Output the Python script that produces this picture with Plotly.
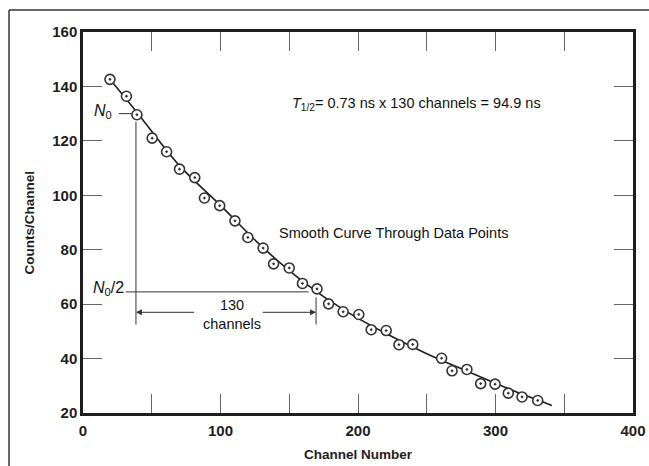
import plotly.graph_objects as go

# ---- data ----
channel = [19.6, 31.6, 39.2, 50.3, 60.8, 70.2, 81.3, 88.3, 99.4, 110.5, 119.9, 131.0,
           138.6, 150.0, 159.6, 170.2, 178.6, 189.2, 200.6, 209.6, 220.5, 229.8, 239.8,
           260.8, 268.4, 279.2, 289.2, 299.7, 309.3, 319.3, 330.7]
counts = [142.6, 136.4, 129.6, 121.0, 116.0, 109.6, 106.5, 99.0, 96.2, 90.6, 84.5, 80.6,
          74.8, 73.3, 67.6, 65.6, 60.1, 57.2, 56.2, 50.6, 50.3, 45.1, 45.2,
          40.1, 35.5, 36.0, 30.8, 30.6, 27.3, 25.9, 24.6]

curve_x = [19, 40, 70, 100, 130, 160, 190, 220, 250, 280, 310, 341]
curve_y = [143.0, 130.0, 111.0, 96.3, 81.2, 68.3, 57.8, 49.3, 41.8, 35.2, 28.8, 22.8]

x_tickvals = [0, 100, 200, 300, 400]
x_ticktext = ["0", "100", "200", "300", "400"]
y_tickvals = [20, 40, 60, 80, 100, 120, 140, 160]
y_ticktext = ["20", "40", "60", "80", "100", "120", "140", "160"]

# half-life construction values
n0 = 130
n0_half = 64.5
ch_start = 38.5
ch_end = 169.5
arrow_level = 57
text_gap = [83, 128.5]

INK = "#1e1e1e"
FONT = "Liberation Sans, Arial, sans-serif"

fig = go.Figure()
fig.add_trace(go.Scatter(x=curve_x, y=curve_y, mode="lines",
                         line=dict(color=INK, width=1.6, shape="spline", smoothing=1.0),
                         hoverinfo="skip", showlegend=False))
fig.add_trace(go.Scatter(x=channel, y=counts, mode="markers",
                         marker=dict(symbol="circle-dot", size=10, color="white",
                                     line=dict(color="#333333", width=1.6)),
                         showlegend=False))

line_style = dict(color="#333333", width=1)
shapes = [
    dict(type="line", xref="x", yref="y", x0=26, x1=35.5, y0=n0, y1=n0, line=line_style),
    dict(type="line", xref="x", yref="y", x0=ch_start, x1=ch_start, y0=127, y1=52.5, line=line_style),
    dict(type="line", xref="x", yref="y", x0=31, x1=164, y0=n0_half, y1=n0_half, line=line_style),
    dict(type="line", xref="x", yref="y", x0=ch_end, x1=ch_end, y0=62.5, y1=52.5, line=line_style),
    dict(type="line", xref="paper", yref="paper", x0=-0.1345, x1=1.3, y0=1.0577, y1=1.0577,
         line=dict(color="#333333", width=1.5)),
    dict(type="line", xref="paper", yref="paper", x0=-0.1345, x1=-0.1345, y0=1.0577, y1=-0.3,
         line=dict(color="#333333", width=1.5)),
]

ann_font = dict(family=FONT, size=14.5, color="#111111")
title_font = dict(family=FONT, size=13.5, color=INK, weight="bold")
annotations = [
    dict(x=242.5, y=133.5, xref="x", yref="y", showarrow=False,
         text="<i>T</i><sub>1/2</sub>= 0.73 ns x 130 channels = 94.9 ns", font=ann_font),
    dict(x=225.8, y=86.1, xref="x", yref="y", showarrow=False,
         text="Smooth Curve Through Data Points", font=ann_font),
    dict(x=22.5, y=n0 + 0.8, xref="x", yref="y", showarrow=False, xanchor="right",
         text="<i>N</i><sub>0</sub>", font=dict(family=FONT, size=16, color="#111111")),
    dict(x=31, y=n0_half + 1.3, xref="x", yref="y", showarrow=False, xanchor="right",
         text="<i>N</i><sub>0</sub>/2", font=dict(family=FONT, size=16, color="#111111")),
    dict(x=108, y=56.2, xref="x", yref="y", showarrow=False,
         text="130<br>channels", font=ann_font),
    dict(x=ch_start, y=arrow_level, ax=text_gap[0], ay=arrow_level, xref="x", yref="y",
         axref="x", ayref="y", showarrow=True, arrowhead=2, arrowsize=1.2, arrowwidth=1,
         arrowcolor="#333333", text=" "),
    dict(x=ch_end, y=arrow_level, ax=text_gap[1], ay=arrow_level, xref="x", yref="y",
         axref="x", ayref="y", showarrow=True, arrowhead=2, arrowsize=1.2, arrowwidth=1,
         arrowcolor="#333333", text=" "),
    # axis titles
    dict(x=0.5, y=-0.110, xref="paper", yref="paper", showarrow=False,
         xanchor="center", yanchor="middle",
         text="Channel Number", font=title_font),
    dict(x=-0.0964, y=0.5, xref="paper", yref="paper", showarrow=False, textangle=-90,
         xanchor="center", yanchor="middle",
         text="Counts/Channel", font=title_font),
]

tick_font = dict(family=FONT, size=15, color=INK, weight="bold")
axis_common = dict(showgrid=False, zeroline=False, showline=True, linecolor=INK, linewidth=2.5,
                   mirror="ticks", ticks="inside", ticklen=19, tickwidth=1.2, tickcolor="#666666",
                   tickfont=tick_font, automargin=False)

fig.update_layout(
    width=649, height=466,
    margin=dict(l=83, r=16, t=32, b=53),
    paper_bgcolor="white", plot_bgcolor="white",
    xaxis=dict(range=[0, 400], tickmode="array", tickvals=x_tickvals, ticktext=x_ticktext,
               ticklabelstandoff=2,
               minor=dict(dtick=50, tick0=0, ticks="inside", ticklen=19, tickwidth=1.2,
                          tickcolor="#666666", showgrid=False),
               **axis_common),
    yaxis=dict(range=[20, 160], tickmode="array", tickvals=y_tickvals, ticktext=y_ticktext,
               **axis_common),
    shapes=shapes,
    annotations=annotations,
)

fig.write_html("out.html")
